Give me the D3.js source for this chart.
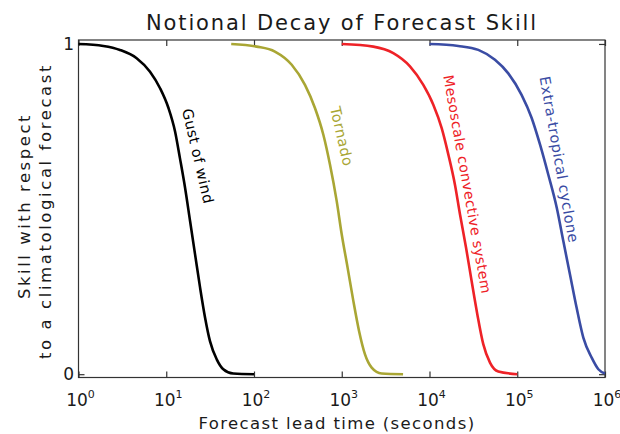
<!DOCTYPE html>
<html><head><meta charset="utf-8">
<script src="https://cdn.jsdelivr.net/npm/d3@7"></script>
<style>
body{margin:0;background:#fff;}
svg{display:block;font-family:"DejaVu Sans",sans-serif;}
</style></head>
<body>
<svg id="c" width="620" height="434"></svg>
<script>
// ---- data ----
const titleText = "Notional Decay of Forecast Skill";
const xTitle = "Forecast lead time (seconds)";
const yTitle = ["Skill with respect", "to a climatological forecast"];
const xTickExp = [0, 1, 2, 3, 4, 5, 6];
const yTicks = [0, 1];

const gustOfWind = [[1,1],[1.92,0.994],[2.97,0.982],[4.6,0.957],[6.53,0.916],[8.5,0.866],[10.6,0.806],[12.6,0.735],[14.3,0.655],[16.4,0.564],[18.7,0.463],[21.3,0.363],[24.3,0.262],[27.7,0.171],[31.5,0.10],[37.6,0.045],[44.7,0.015],[58,0.002],[100,0]];
const tornado = [[55,1],[107,0.992],[173,0.977],[269,0.937],[381,0.876],[495,0.806],[617,0.725],[735,0.634],[876,0.524],[1000,0.423],[1167,0.322],[1355,0.222],[1574,0.131],[1841,0.060],[2193,0.020],[2851,0.002],[5000,0]];
const mesoscale = [[1000,1],[2290,0.992],[3866,0.972],[5990,0.932],[8500,0.876],[11050,0.816],[13770,0.745],[16400,0.665],[19500,0.574],[22300,0.483],[26100,0.383],[30200,0.282],[35100,0.181],[41000,0.091],[48900,0.035],[60800,0.008],[100000,0]];
const extratropical = [[10000,1],[21300,0.994],[36000,0.982],[55700,0.952],[79000,0.911],[112000,0.846],[146000,0.776],[182000,0.695],[226000,0.604],[282000,0.504],[335000,0.403],[399000,0.302],[475000,0.201],[566000,0.111],[705000,0.050],[840000,0.015],[1000000,0.002]];

const seriesNames = ["Gust of wind", "Tornado", "Mesoscale convective system", "Extra-tropical cyclone"];
const seriesData = [gustOfWind, tornado, mesoscale, extratropical];
const seriesColors = ["#000000", "#a9a634", "#ee2227", "#3a4ca4"];
// label anchor in data space (t, skill) and rotation
const labelT = [23, 1000, 27000, 300000];
const labelY = [0.66, 0.72, 0.575, 0.65];
const labelAngle = [77, 77, 80, 80];
const labelSize = [14.5, 14.5, 14, 14.5];

// ---- layout ----
const svg = d3.select("#c");
const L = 78.5, R = 605, T = 40, B = 377.5;
const x = d3.scaleLog().domain([1, 1e6]).range([L, R]);
const y = d3.scaleLinear().domain([-0.01, 1.012]).range([B, T]);
const axisColor = "#333";
const textColor = "#1a1a1a";

// frame
svg.append("rect").attr("x", L).attr("y", T).attr("width", R - L).attr("height", B - T)
  .attr("fill", "none").attr("stroke", axisColor).attr("stroke-width", 1.2);

const xVals = xTickExp.map(e => Math.pow(10, e));
function styleAxis(g){ g.select(".domain").remove(); g.selectAll("line").attr("stroke", axisColor).attr("stroke-width", 1.2); }
svg.append("g").attr("transform", `translate(0,${B})`)
  .call(d3.axisBottom(x).tickValues(xVals).tickSizeInner(-6).tickSizeOuter(0).tickFormat("")).call(styleAxis);
svg.append("g").attr("transform", `translate(0,${T})`)
  .call(d3.axisTop(x).tickValues(xVals).tickSizeInner(-6).tickSizeOuter(0).tickFormat("")).call(styleAxis);
svg.append("g").attr("transform", `translate(${L},0)`)
  .call(d3.axisLeft(y).tickValues(yTicks).tickSizeInner(-6).tickSizeOuter(0).tickFormat("")).call(styleAxis);
svg.append("g").attr("transform", `translate(${R},0)`)
  .call(d3.axisRight(y).tickValues(yTicks).tickSizeInner(-6).tickSizeOuter(0).tickFormat("")).call(styleAxis);

// x tick labels 10^n
xTickExp.forEach(e => {
  const t = svg.append("text").attr("x", x(Math.pow(10, e)) + 2).attr("y", 406)
    .attr("text-anchor", "middle").attr("font-size", 17).attr("fill", textColor);
  t.append("tspan").text("10");
  t.append("tspan").attr("font-size", 11).attr("dy", -8).text(String(e));
});
// y tick labels
yTicks.forEach(v => {
  svg.append("text").attr("x", 74).attr("y", y(v)).attr("dy", "0.36em")
    .attr("text-anchor", "end").attr("font-size", 17).attr("fill", textColor).text(String(v));
});

// curves
const line = d3.line().x(d => x(d[0])).y(d => y(d[1])).curve(d3.curveMonotoneX);
seriesData.forEach((s, i) => {
  svg.append("path").datum(s).attr("d", line).attr("fill", "none")
    .attr("stroke", seriesColors[i]).attr("stroke-width", 2.6).attr("stroke-linecap", "butt");
});

// series labels
seriesNames.forEach((n, i) => {
  const px = x(labelT[i]), py = y(labelY[i]);
  svg.append("text").attr("transform", `translate(${px},${py}) rotate(${labelAngle[i]})`)
    .attr("text-anchor", "middle").attr("dy", "0.35em").attr("font-size", labelSize[i])
    .attr("letter-spacing", 0.5)
    .attr("fill", seriesColors[i]).text(n);
});

// fit helper: adjust letter-spacing to reach a target length
function fitSpacing(sel, target){
  const w = sel.node().getComputedTextLength();
  const n = sel.text().length;
  sel.attr("letter-spacing", (target - w) / n);
}
// title
const tt = svg.append("text").attr("x", 342).attr("y", 29.5).attr("text-anchor", "middle")
  .attr("font-size", 21).attr("fill", textColor).text(titleText);
fitSpacing(tt, 392);
// x title
const xt = svg.append("text").attr("x", 337).attr("y", 429).attr("text-anchor", "middle")
  .attr("font-size", 16.5).attr("fill", textColor).text(xTitle);
fitSpacing(xt, 277);
// y title
const yt1 = svg.append("text").attr("transform", "translate(30,206) rotate(-90)").attr("text-anchor", "middle")
  .attr("font-size", 16.5).attr("fill", textColor).text(yTitle[0]);
fitSpacing(yt1, 186);
const yt2 = svg.append("text").attr("transform", "translate(51,211) rotate(-90)").attr("text-anchor", "middle")
  .attr("font-size", 16.5).attr("fill", textColor).text(yTitle[1]);
fitSpacing(yt2, 296);
</script>
</body></html>
